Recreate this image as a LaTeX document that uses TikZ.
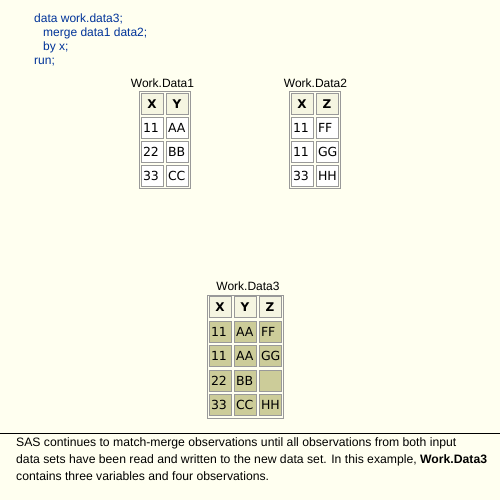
\documentclass[tikz,border=0pt]{standalone}
\usepackage{fontspec}
\setmainfont{Liberation Sans}
\newfontfamily\cellfont{DejaVu Sans}
\definecolor{bgc}{HTML}{FFFFF0}
\definecolor{codec}{RGB}{0,51,153}
\definecolor{hdrc}{HTML}{F5F5E1}
\definecolor{olive}{HTML}{CCCC99}
\definecolor{brd}{HTML}{999999}
\begin{document}
\begin{tikzpicture}[x=1pt,y=-1pt,
  every node/.style={font=\fontsize{12}{14}\selectfont},
  codeline/.style={anchor=west,text=codec,inner sep=0pt},
  tlabel/.style={inner sep=0pt},
  frame/.style={draw=brd,line width=1pt},
  hcell/.style={draw=brd,fill=hdrc,line width=0.8pt,minimum width=22pt,minimum height=21pt,inner sep=0pt,font=\cellfont\fontsize{12}{14}\selectfont\bfseries},
  wcell/.style={draw=brd,fill=white,line width=0.8pt,minimum width=22pt,minimum height=21pt,inner sep=0pt,text width=18pt,align=left,font=\cellfont\fontsize{12.5}{14}\selectfont},
  ocell/.style={wcell,fill=olive},
  body/.style={anchor=north west,inner sep=0pt,align=left,font=\fontsize{12.2}{17}\selectfont}
]
\fill[bgc] (0,0) rectangle (500,500);
\useasboundingbox (0,0) rectangle (500,500);
% code
\node[codeline] (c1) at (34,18.5) {data work.data3;};
\node[codeline] (c2) at (43,33) {merge data1 data2;};
\node[codeline] (c3) at (43,47.5) {by x;};
\node[codeline] (c4) at (34,62) {run;};
% Table 1
\node[tlabel] (l1) at (162.5,83) {Work.Data1};
\draw[frame] (139,92) rectangle (190,188);
\node[hcell] (a00) at (152,104) {X};
\node[hcell] (a01) at (177,104) {Y};
\node[wcell] (a10) at (152,128) {11};
\node[wcell] (a11) at (177,128) {AA};
\node[wcell] (a20) at (152,152) {22};
\node[wcell] (a21) at (177,152) {BB};
\node[wcell] (a30) at (152,176) {33};
\node[wcell] (a31) at (177,176) {CC};
% Table 2
\node[tlabel] (l2) at (315.5,83) {Work.Data2};
\draw[frame] (289,92) rectangle (340,188);
\node[hcell] (b00) at (302,104) {X};
\node[hcell] (b01) at (327,104) {Z};
\node[wcell] (b10) at (302,128) {11};
\node[wcell] (b11) at (327,128) {FF};
\node[wcell] (b20) at (302,152) {11};
\node[wcell] (b21) at (327,152) {GG};
\node[wcell] (b30) at (302,176) {33};
\node[wcell] (b31) at (327,176) {HH};
% Table 3
\node[tlabel] (l3) at (248,286) {Work.Data3};
\draw[frame] (207,295) rectangle (283,418);
\node[hcell] (d00) at (220,307) {X};
\node[hcell] (d01) at (245,307) {Y};
\node[hcell] (d02) at (270,307) {Z};
\node[ocell] (d10) at (220,331.5) {11};
\node[ocell] (d11) at (245,331.5) {AA};
\node[ocell] (d12) at (270,331.5) {FF};
\node[ocell] (d20) at (220,356) {11};
\node[ocell] (d21) at (245,356) {AA};
\node[ocell] (d22) at (270,356) {GG};
\node[ocell] (d30) at (220,380.5) {22};
\node[ocell] (d31) at (245,380.5) {BB};
\node[ocell] (d32) at (270,380.5) {};
\node[ocell] (d40) at (220,405) {33};
\node[ocell] (d41) at (245,405) {CC};
\node[ocell] (d42) at (270,405) {HH};
% separator and caption
\coordinate (sl) at (0,433);
\coordinate (sr) at (500,433);
\draw[black,line width=1pt] (sl) -- (sr);
\node[body] (cap) at (16,437) {SAS continues to match-merge observations until all observations from both input\\
data sets have been read and written to the new data set. In this example, \textbf{Work.Data3}\\
contains three variables and four observations.};
\end{tikzpicture}
\end{document}
